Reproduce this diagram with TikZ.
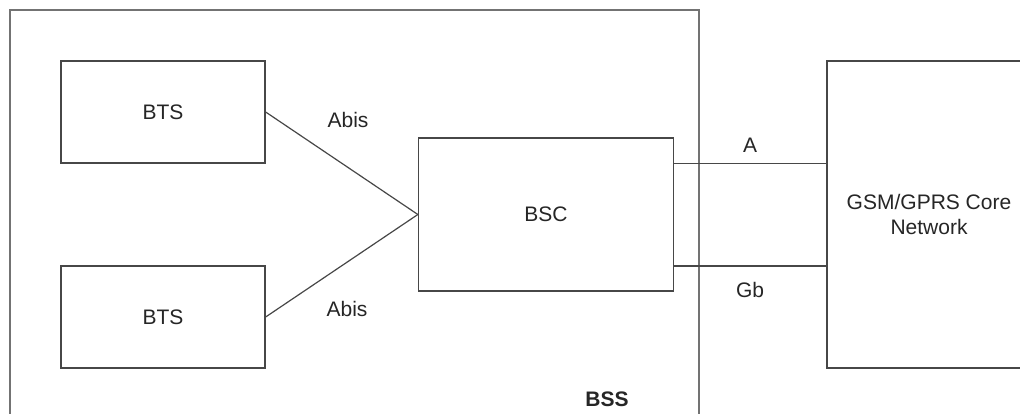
\documentclass[tikz,border=0pt]{standalone}
\usepackage{fontspec}
\setmainfont{Liberation Sans}
\begin{document}
\begin{tikzpicture}[x=1pt,y=-1pt,
  lbl/.style={font=\fontsize{21}{25}\selectfont, text=black!85},
  blk/.style={draw=black!72, line width=1.3pt, rectangle, inner sep=0pt, lbl, align=center},
  wire/.style={draw=black!72, line width=1.2pt}]
\useasboundingbox (0,0) rectangle (1020,414);
\clip (0,0) rectangle (1020,414);
\fill[white] (0,0) rectangle (1020,414);
% BSS enclosure (cut off at bottom)
\draw[draw=black!55, line width=1.6pt] (10,440) -- (10,10) -- (699,10) -- (699,440);
\node[blk, minimum width=204, minimum height=102] (bts1) at (163,112) {BTS};
\node[blk, minimum width=204, minimum height=102] (bts2) at (163,317) {BTS};
\node[blk, minimum width=255, minimum height=153] (bsc) at (546,214.5) {BSC};
\node[blk, minimum width=204, minimum height=307] (core) at (929,214.5) {GSM/GPRS Core\\Network};
\draw[wire] (bts1.east) -- (bsc.west);
\draw[wire] (bts2.east) -- (bsc.west);
\coordinate (aL) at (bsc.east |- 0,163.5);
\coordinate (aR) at (core.west |- 0,163.5);
\coordinate (gL) at (bsc.east |- 0,266);
\coordinate (gR) at (core.west |- 0,266);
\draw[wire] (aL) -- (aR);
\draw[wire] (gL) -- (gR);
\node[lbl] (abis1) at (348,120) {Abis};
\node[lbl] (abis2) at (347,309) {Abis};
\node[lbl] (alab) at (750,145) {A};
\node[lbl] (gblab) at (750,290) {Gb};
\node[lbl, font=\fontsize{21}{25}\selectfont\bfseries] (bss) at (607,399) {BSS};
\end{tikzpicture}
\end{document}
